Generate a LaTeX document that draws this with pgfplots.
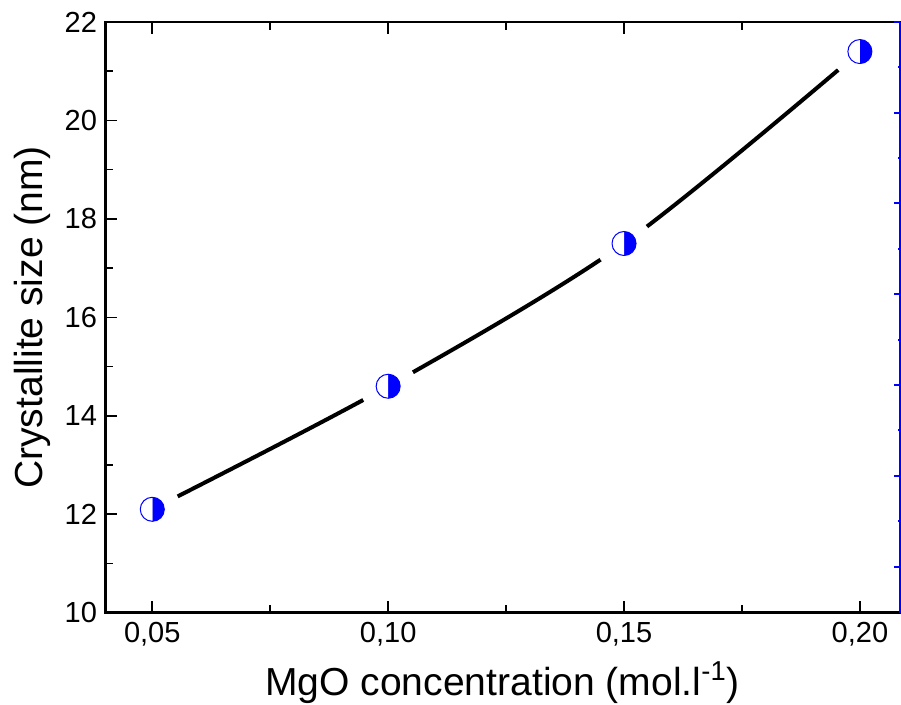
\documentclass[border=0pt]{standalone}
\usepackage{fontspec}
\setmainfont{Liberation Sans}
\usepackage{pgfplots}
\pgfplotsset{compat=1.18}
\usetikzlibrary{plotmarks}
\definecolor{mblue}{RGB}{0,0,255}
\begin{document}
\begin{tikzpicture}
\begin{axis}[name=ax,
  scale only axis, width=397pt, height=295pt,
  xmin=0.0400, xmax=0.2085, ymin=10, ymax=22,
  xtick={0.05,0.10,0.15,0.20},
  xticklabels={{0,05},{0,10},{0,15},{0,20}},
  minor xtick={0.075,0.125,0.175},
  ytick={10,12,14,16,18,20,22},
  minor ytick={11,13,15,17,19,21},
  xtick pos=both, ytick pos=left,
  tick align=inside,
  major tick length=6pt, minor tick length=4pt,
  every tick/.style={black, line width=0.8pt},
  axis line style={line width=1.4pt},
  /pgf/number format/assume math mode=true,
  ticklabel style={font=\fontsize{14.5}{16}\selectfont},
  xticklabel style={yshift=-1pt},
  yticklabel style={xshift=-0.5pt},
  label style={font=\fontsize{19.5}{22}\selectfont},
  xlabel={MgO concentration (mol.l\textsuperscript{-1})},
  ylabel={Crystallite size (nm)},
  xlabel style={yshift=-1pt},
  ylabel style={yshift=0pt},
  clip=false,
]
\addplot[black, line width=2pt, smooth, tension=0.5] coordinates {(0.05,12.1) (0.10,14.6) (0.15,17.5) (0.20,21.4)};
\addplot[only marks, mark=*, mark size=14pt, mark options={fill=white, draw=white}] coordinates {(0.05,12.1) (0.10,14.6) (0.15,17.5) (0.20,21.4)};
\addplot[only marks, mark=halfcircle*, mark size=6pt, mark options={draw=mblue, fill=mblue, rotate=-90, line width=0.5pt}] coordinates {(0.05,12.1) (0.10,14.6) (0.15,17.5) (0.20,21.4)};
\end{axis}
\begin{axis}[
  scale only axis, width=397pt, height=295pt,
  xmin=0, xmax=1, ymin=0, ymax=590,
  axis x line=none, axis y line*=right,
  ytick={46,136.7,227.4,318,408.8,499.5,590},
  minor ytick={91.3,182,272.7,363.4,454.1,544.8},
  yticklabels={}, tick align=inside,
  major tick length=3pt, minor tick length=1pt,
  every tick/.style={mblue, line width=1pt},
  axis line style={mblue, line width=1.4pt},
]
\addplot[draw=none] coordinates {(0,0)};
\end{axis}
\pgfresetboundingbox
\path ([shift={(-52.5pt,-46pt)}]ax.south west) rectangle ([shift={(0.5pt,11pt)}]ax.north east);
\end{tikzpicture}
\end{document}
